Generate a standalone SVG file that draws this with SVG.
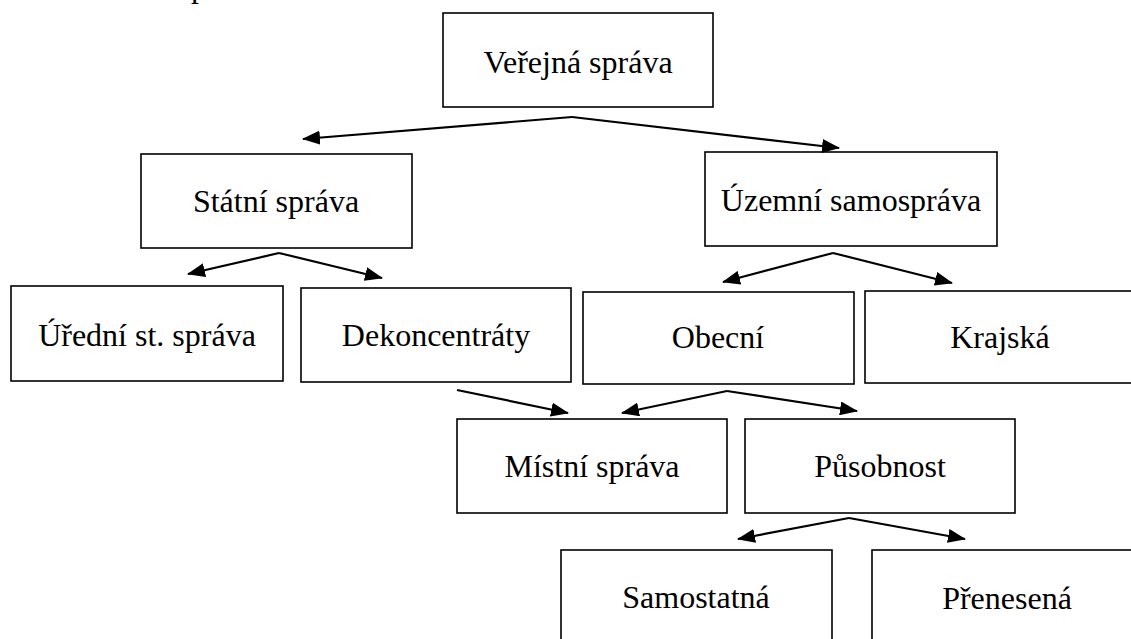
<svg xmlns="http://www.w3.org/2000/svg" width="1131" height="639" viewBox="0 0 1131 639">
<style>
.box{fill:#fff;stroke:#000;stroke-width:1.6}
.lbl{font-family:"Liberation Serif","Times New Roman",serif;font-size:32px;fill:#000;text-anchor:middle}
.con{stroke:#000;stroke-width:2.2;fill:none;marker-end:url(#ah)}
</style>
<defs>
<marker id="ah" viewBox="0 0 18 14" refX="17" refY="7" markerWidth="18" markerHeight="14" markerUnits="userSpaceOnUse" orient="auto">
<path d="M0,0 L18,7 L0,14 z" fill="#000"/>
</marker>
</defs>
<rect width="1131" height="639" fill="#fff"/>
<text class="lbl" x="199" y="-3">p</text>
<g id="verejna"><rect class="box" x="443" y="13" width="270" height="94"/><text class="lbl" x="578" y="73">Veřejná správa</text></g>
<g id="statni"><rect class="box" x="141" y="154" width="271" height="94"/><text class="lbl" x="276" y="212">Státní správa</text></g>
<g id="uzemni"><rect class="box" x="705" y="152" width="292" height="94"/><text class="lbl" x="851" y="211">Územní samospráva</text></g>
<g id="uredni"><rect class="box" x="11" y="286" width="272" height="95"/><text class="lbl" x="147" y="346">Úřední st. správa</text></g>
<g id="dekoncentraty"><rect class="box" x="301" y="288" width="270" height="94"/><text class="lbl" x="436" y="346">Dekoncentráty</text></g>
<g id="obecni"><rect class="box" x="583" y="292" width="271" height="92"/><text class="lbl" x="718" y="348">Obecní</text></g>
<g id="krajska"><rect class="box" x="865" y="291" width="270" height="92"/><text class="lbl" x="1000" y="348">Krajská</text></g>
<g id="mistni"><rect class="box" x="457" y="419" width="270" height="94"/><text class="lbl" x="592" y="477">Místní správa</text></g>
<g id="pusobnost"><rect class="box" x="745" y="419" width="270" height="94"/><text class="lbl" x="880" y="477">Působnost</text></g>
<g id="samostatna"><rect class="box" x="561" y="550" width="271" height="100"/><text class="lbl" x="696" y="608">Samostatná</text></g>
<g id="prenesena"><rect class="box" x="872" y="550" width="270" height="100"/><text class="lbl" x="1007" y="609">Přenesená</text></g>
<g id="connectors">
<line class="con" x1="572" y1="117" x2="303" y2="139"/>
<line class="con" x1="572" y1="117" x2="839" y2="148"/>
<line class="con" x1="279" y1="253" x2="188" y2="274"/>
<line class="con" x1="279" y1="253" x2="382" y2="278"/>
<line class="con" x1="833" y1="253" x2="723" y2="282"/>
<line class="con" x1="833" y1="253" x2="952" y2="283"/>
<line class="con" x1="457" y1="390" x2="568" y2="413"/>
<line class="con" x1="727" y1="391" x2="622" y2="413"/>
<line class="con" x1="727" y1="391" x2="857" y2="411"/>
<line class="con" x1="849" y1="518" x2="738" y2="539"/>
<line class="con" x1="849" y1="518" x2="965" y2="539"/>
</g>
</svg>
